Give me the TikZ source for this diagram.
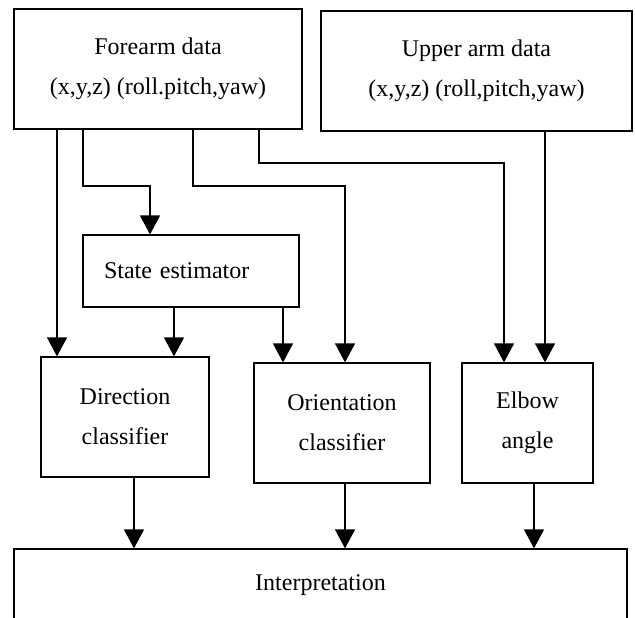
\documentclass[tikz,border=0pt]{standalone}
\usepackage{fontspec}
\setmainfont{Liberation Serif}
\usetikzlibrary{arrows.meta}
\begin{document}
\begin{tikzpicture}[x=0.5pt, y=-0.5pt,
    box/.style={draw, line width=0.6pt, align=center, inner sep=0pt, font=\fontsize{12}{20}\selectfont},
    arr/.style={-{Triangle[width=10pt,length=9.5pt]}, line width=0.6pt}]
  \clip (0,0) rectangle (635,617);
  % sensor inputs
  \node[box, minimum width=144pt, minimum height=60pt] (fore) at (158,69) {Forearm data\\(x,y,z) (roll.pitch,yaw)};
  \node[box, minimum width=155.5pt, minimum height=60pt] (upper) at (476.5,71) {Upper arm data\\(x,y,z) (roll,pitch,yaw)};
  \node[box, text width=87pt, align=left, inner xsep=10.5pt, minimum height=36pt] (state) at (191,271) {State estimator};
  % classifiers
  \node[box, minimum width=84pt, minimum height=60pt] (dir) at (125,417) {Direction\\classifier};
  \node[box, minimum width=88pt, minimum height=60pt] (orient) at (342,423) {Orientation\\classifier};
  \node[box, minimum width=65.5pt, minimum height=60pt] (elbow) at (527.5,423) {Elbow\\angle};
  \node[box, minimum width=306.5pt, minimum height=36pt] (interp) at (320.5,585) {Interpretation};
  % straight arrows
  \foreach \a/\b/\x in {fore/dir/57, upper/elbow/545, state/dir/174, state/orient/283,
                        dir/interp/134, orient/interp/345, elbow/interp/534}
    \draw[arr] (\a.south -| \x,0) -- (\b.north -| \x,0);
  % bent arrows from forearm data
  \draw[arr] (fore.south -| 83,0) |- (150,186) -- (state.north -| 150,0);
  \draw[arr] (fore.south -| 193,0) |- (345,186) -- (orient.north -| 345,0);
  \draw[arr] (fore.south -| 259,0) |- (504,163) -- (elbow.north -| 504,0);
\end{tikzpicture}
\end{document}
